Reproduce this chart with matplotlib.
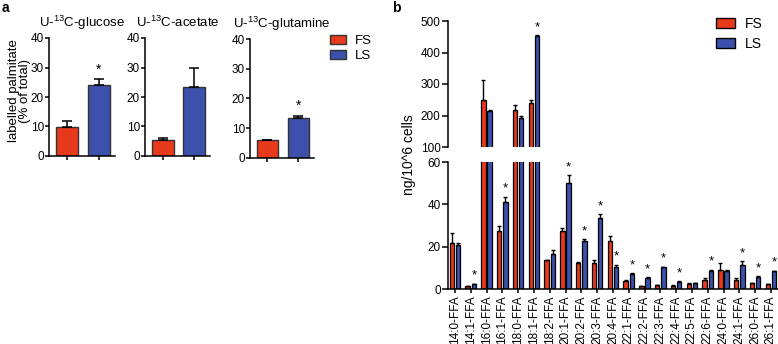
import matplotlib
matplotlib.use('Agg')
import matplotlib.pyplot as plt
import numpy as np
from matplotlib.patches import Patch

plt.rcParams['font.family'] = ['Liberation Sans', 'DejaVu Sans']
plt.rcParams['mathtext.fontset'] = 'custom'
plt.rcParams['mathtext.rm'] = 'Liberation Sans'
plt.rcParams['mathtext.it'] = 'Liberation Sans:italic'
plt.rcParams['mathtext.bf'] = 'Liberation Sans:bold'

# ---------------- data ----------------
groups = ['FS', 'LS']
tracers = ['U-$^{13}$C-glucose', 'U-$^{13}$C-acetate', 'U-$^{13}$C-glutamine']
labelled_mean = [[9.9, 24.1], [5.3, 23.3], [5.9, 13.4]]
labelled_err = [[2.0, 1.9], [0.7, 6.7], [0.0, 0.7]]
labelled_sig = [[False, True], [False, False], [False, True]]
a_yticks = [0, 10, 20, 30, 40]

ffa = ['14:0-FFA', '14:1-FFA', '16:0-FFA', '16:1-FFA', '18:0-FFA', '18:1-FFA',
       '18:2-FFA', '20:1-FFA', '20:2-FFA', '20:3-FFA', '20:4-FFA', '22:1-FFA',
       '22:2-FFA', '22:3-FFA', '22:4-FFA', '22:5-FFA', '22:6-FFA', '24:0-FFA',
       '24:1-FFA', '26:0-FFA', '26:1-FFA']
fs_mean = [21.6, 1.25, 248, 27.4, 216, 241, 13.5, 27.4, 12.2, 12.2, 22.9, 3.9,
           1.4, 1.7, 1.6, 2.4, 4.4, 8.8, 4.4, 2.8, 2.4]
fs_err = [5.0, 0.2, 64, 2.4, 18, 9, 0.3, 1.3, 0.5, 1.3, 2.2, 0.3,
          0.1, 0.1, 0.3, 0.2, 0.6, 3.4, 0.6, 0.2, 0.1]
ls_mean = [20.8, 2.2, 213, 40.9, 192, 452, 16.5, 50.3, 22.7, 33.5, 10.3, 7.2,
           5.3, 10.3, 3.3, 2.8, 8.6, 8.3, 11.4, 5.5, 8.3]
ls_err = [0.7, 0.2, 3, 2.7, 6, 2, 2.0, 3.5, 0.8, 1.8, 1.1, 0.3,
          0.3, 0.3, 0.3, 0.2, 0.5, 0.5, 1.6, 0.5, 0.3]
ls_sig = [False, True, False, True, False, True, False, True, True, True, True, True,
          True, True, True, False, True, False, True, True, True]
b_upper_ticks = [100, 200, 300, 400, 500]
b_lower_ticks = [0, 20, 40, 60]

fs_color = '#E8391D'
ls_color = '#3D50AC'
colors = [fs_color, ls_color]

W, H = 778, 344
fig = plt.figure(figsize=(W / 100, H / 100), dpi=100)


def px_rect(x0, y_top, x1, y_bot):
    return [x0 / W, 1 - y_bot / H, (x1 - x0) / W, (y_bot - y_top) / H]


def style_axes(ax, tick_len):
    for s in ['top', 'right']:
        ax.spines[s].set_visible(False)
    for s in ['left', 'bottom']:
        ax.spines[s].set_linewidth(1.1)
    ax.tick_params(width=1.1, length=tick_len, labelsize=8.5, pad=0.8)


# ---------------- panel a ----------------
a_rects = [px_rect(49, 38, 115, 156), px_rect(145, 38, 210, 156), px_rect(250, 39, 314, 158)]
for k in range(3):
    ax = fig.add_axes(a_rects[k])
    xs = np.arange(len(groups))
    ax.bar(xs, labelled_mean[k], width=0.69, color=colors, edgecolor='#333333', linewidth=1.0, zorder=2)
    ax.errorbar(xs, labelled_mean[k], yerr=[np.zeros(2), labelled_err[k]], fmt='none',
                ecolor='black', elinewidth=1.1, capsize=3.5, capthick=1.1, zorder=3)
    for i in range(2):
        if labelled_sig[k][i]:
            ax.annotate('*', (xs[i], labelled_mean[k][i] + labelled_err[k][i]),
                        xytext=(0, 2), textcoords='offset points', ha='center', va='bottom', fontsize=10)
    ax.set_xlim(-0.56, 1.5)
    ax.set_ylim(0, 40)
    ax.set_yticks(a_yticks)
    ax.set_xticks(xs)
    ax.set_xticklabels([])
    style_axes(ax, 2.8)
    ax.set_title(tracers[k], fontsize=9.5, pad=8)

fig.text(19.5 / W, 1 - 91 / H, 'labelled palmitate\n(% of total)', rotation=90,
         ha='center', va='center', fontsize=9.5, linespacing=0.85)

handles = [Patch(facecolor=colors[i], edgecolor='#333333', linewidth=1.0, label=groups[i]) for i in range(2)]
fig.legend(handles=handles, loc='upper left', bbox_to_anchor=(330 / W, 1 - 35 / H), frameon=False,
           fontsize=9.5, handlelength=1.25, handleheight=0.7, handletextpad=0.6, labelspacing=0.2,
           borderaxespad=0, borderpad=0)

fig.text(2 / W, 1 - 1 / H, 'a', fontsize=10, fontweight='bold', va='top', ha='left')
fig.text(392 / W, 1 - 1 / H, 'b', fontsize=10, fontweight='bold', va='top', ha='left')

# ---------------- panel b ----------------
ax_up = fig.add_axes(px_rect(448, 21, 800, 147))
ax_lo = fig.add_axes(px_rect(448, 162, 800, 289))
x = np.arange(len(ffa))
bw = 0.28
off = 0.195
for ax in (ax_up, ax_lo):
    ax.bar(x - off, fs_mean, width=bw, color=fs_color, edgecolor='black', linewidth=0.9, zorder=2)
    ax.bar(x + off, ls_mean, width=bw, color=ls_color, edgecolor='black', linewidth=0.9, zorder=2)
    ax.errorbar(x - off, fs_mean, yerr=[np.zeros(len(x)), fs_err], fmt='none', ecolor='black',
                elinewidth=1.0, capsize=1.3, capthick=1.0, zorder=3)
    ax.errorbar(x + off, ls_mean, yerr=[np.zeros(len(x)), ls_err], fmt='none', ecolor='black',
                elinewidth=1.0, capsize=1.3, capthick=1.0, zorder=3)
    for i in range(len(x)):
        if ls_sig[i]:
            ax.annotate('*', (x[i] + off, ls_mean[i] + ls_err[i]), xytext=(0, 1.5),
                        textcoords='offset points', ha='center', va='bottom', fontsize=9.5)
    ax.set_xlim(-0.44, 21.84)
    style_axes(ax, 4.5)

ax_up.set_ylim(100, 500)
ax_up.set_yticks(b_upper_ticks)
ax_up.spines['bottom'].set_visible(False)
ax_up.tick_params(axis='x', bottom=False, labelbottom=False)

ax_lo.set_ylim(0, 60)
ax_lo.set_yticks(b_lower_ticks)
ax_lo.set_yticks([b_lower_ticks[-1]], minor=True)
ax_lo.tick_params(axis='y', which='minor', direction='in', length=4, width=1.1)
ax_lo.set_xticks(x)
ax_lo.set_xticklabels(ffa, rotation=90, fontsize=8.5)
ax_lo.tick_params(axis='x', length=3, pad=1.5)

fig.text(409 / W, 1 - 155 / H, 'ng/10^6 cells', rotation=90, ha='center', va='center', fontsize=10)

handles_b = [Patch(facecolor=colors[i], edgecolor='black', linewidth=1.0, label=groups[i]) for i in range(2)]
fig.legend(handles=handles_b, loc='upper left', bbox_to_anchor=(716 / W, 1 - 17 / H), frameon=False,
           fontsize=10, handlelength=1.35, handleheight=0.7, handletextpad=0.7, labelspacing=0.4,
           borderaxespad=0, borderpad=0)

fig.savefig('out.png', dpi=100)
